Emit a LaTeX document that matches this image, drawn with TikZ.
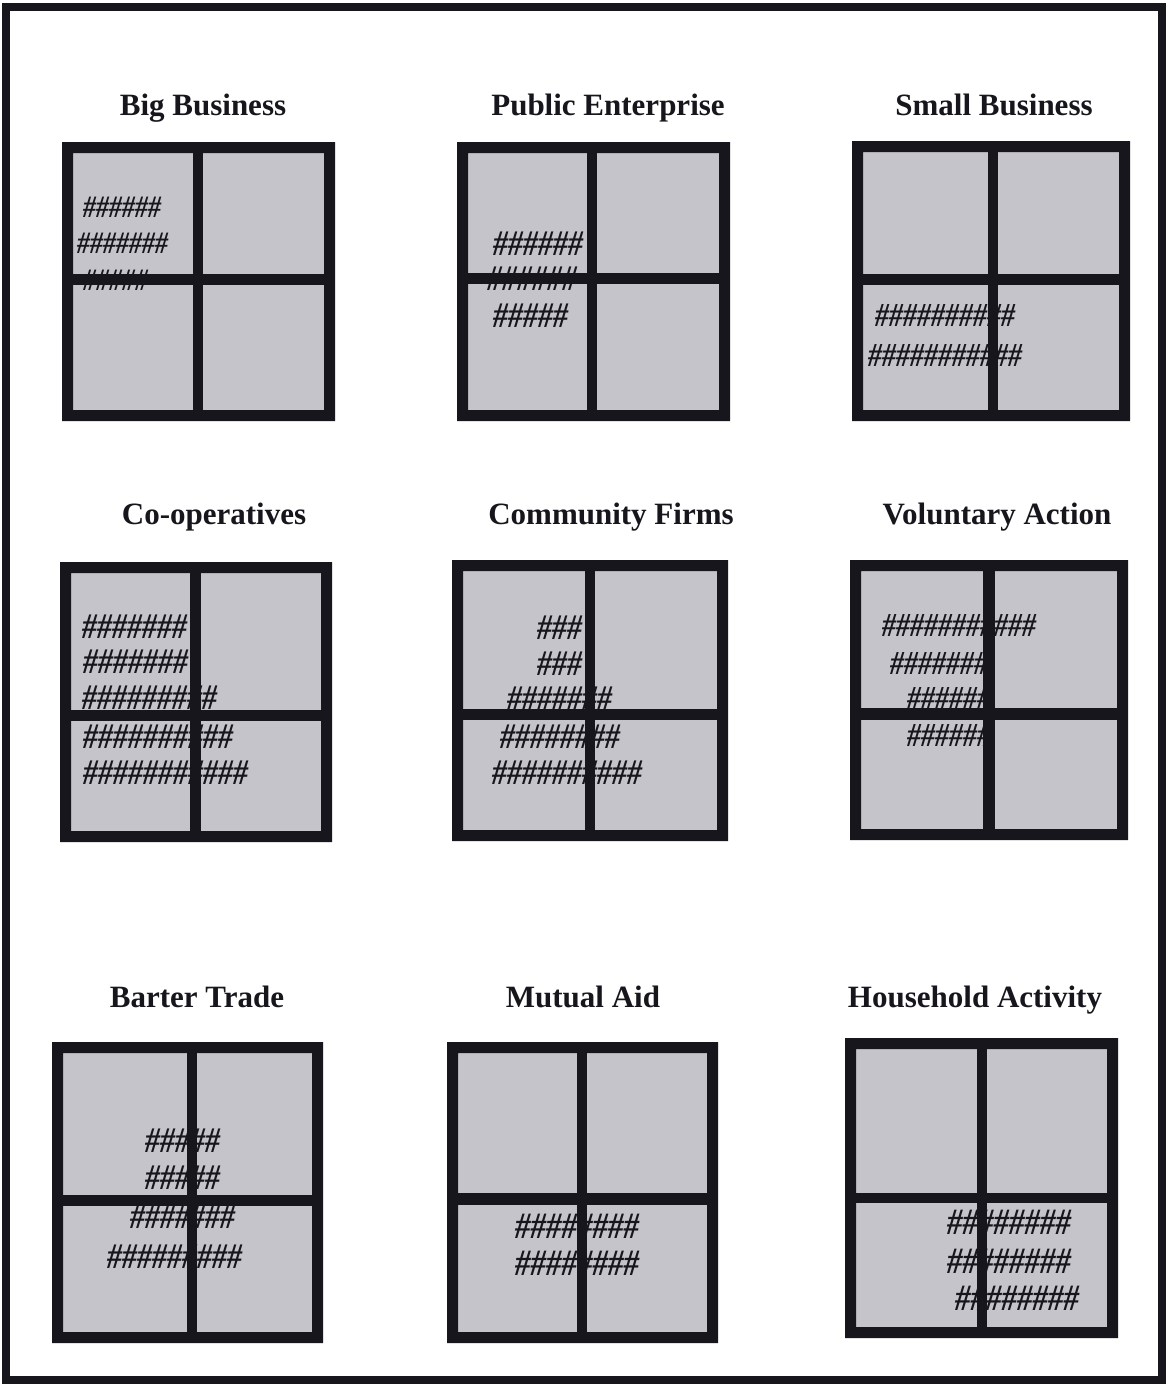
\documentclass[tikz,border=0pt]{standalone}
\usepackage{fontspec}
\setmainfont{Liberation Serif}
\definecolor{ink}{RGB}{22,22,28}
\definecolor{cellgray}{RGB}{196,196,202}
\tikzset{
  title/.style={font=\bfseries\fontsize{31}{31}\selectfont, text=ink, anchor=base, inner sep=0pt},
  hashrow/.style={font=\bfseries\itshape\fontsize{#1}{#1}\selectfont, text=ink, anchor=west, inner sep=0pt},
}
% taller hash glyphs, as in the scan
\newcommand{\hs}[1]{\scalebox{1}[1.2]{#1}}
% gray interior of a panel
\newcommand{\cellfill}[4]{\fill[cellgray] (#1,#2) rectangle (#3,#4);}
% black frame and cross bars of a panel
\newcommand{\cellframe}[8]{%
  \fill[ink,even odd rule] (#1,#2) rectangle (#3,#4) ({#1+11},{#2+11}) rectangle ({#3-11},{#4-11});
  \fill[ink] (#5,#2) rectangle (#6,#4);
  \fill[ink] (#1,#7) rectangle (#3,#8);}
\begin{document}
\begin{tikzpicture}[x=1pt,y=-1pt]
\fill[white] (0,0) rectangle (1171,1385);
\useasboundingbox (0,0) rectangle (1171,1385);
\draw[ink, line width=8pt] (6,7) rectangle (1162,1380);

% titles
\node[title] (t1) at (203,115) {Big Business};
\node[title] (t2) at (608,115) {Public Enterprise};
\node[title] (t3) at (994,115) {Small Business};
\node[title] (t4) at (214,524) {Co-operatives};
\node[title] (t5) at (611,524) {Community Firms};
\node[title] (t6) at (997,524) {Voluntary Action};
\node[title] (t7) at (197,1007) {Barter Trade};
\node[title] (t8) at (583,1007) {Mutual Aid};
\node[title] (t9) at (975,1007) {Household Activity};

% panel 1: Big Business
\cellfill{62}{142}{335}{421}
\node[hashrow=26] (p1a) at (83,207) {\hs{\#\#\#\#\#\#}};
\node[hashrow=26] (p1b) at (77,243) {\hs{\#\#\#\#\#\#\#}};
\node[hashrow=26] (p1c) at (83,280) {\hs{\#\#\#\#\#}};
\cellframe{62}{142}{335}{421}{193}{203}{274}{285}

% panel 2: Public Enterprise
\cellfill{457}{142}{730}{421}
\node[hashrow=30] (p2a) at (493,244) {\hs{\#\#\#\#\#\#}};
\node[hashrow=30] (p2b) at (487,279) {\hs{\#\#\#\#\#\#}};
\node[hashrow=30] (p2c) at (493,316) {\hs{\#\#\#\#\#}};
\cellframe{457}{142}{730}{421}{587}{597}{273}{284}

% panel 3: Small Business
\cellfill{852}{141}{1130}{421}
\node[hashrow=28] (p3a) at (875,315) {\hs{\#\#\#\#\#\#\#\#\#\#}};
\node[hashrow=28] (p3b) at (868,355) {\hs{\#\#\#\#\#\#\#\#\#\#\#}};
\cellframe{852}{141}{1130}{421}{988}{998}{274}{285}

% panel 4: Co-operatives
\cellfill{60}{562}{332}{842}
\node[hashrow=30] (p4a) at (82,627) {\hs{\#\#\#\#\#\#\#}};
\node[hashrow=30] (p4b) at (83,662) {\hs{\#\#\#\#\#\#\#}};
\node[hashrow=30] (p4c) at (82,698) {\hs{\#\#\#\#\#\#\#\#\#}};
\node[hashrow=30] (p4d) at (83,737) {\hs{\#\#\#\#\#\#\#\#\#\#}};
\node[hashrow=30] (p4e) at (83,773) {\hs{\#\#\#\#\#\#\#\#\#\#\#}};
\cellframe{60}{562}{332}{842}{190}{201}{710}{721}

% panel 5: Community Firms
\cellfill{452}{560}{728}{841}
\node[hashrow=30] (p5a) at (537,628) {\hs{\#\#\#}};
\node[hashrow=30] (p5b) at (537,664) {\hs{\#\#\#}};
\node[hashrow=30] (p5c) at (507,699) {\hs{\#\#\#\#\#\#\#}};
\node[hashrow=30] (p5d) at (500,737) {\hs{\#\#\#\#\#\#\#\#}};
\node[hashrow=30] (p5e) at (492,773) {\hs{\#\#\#\#\#\#\#\#\#\#}};
\cellframe{452}{560}{728}{841}{585}{595}{709}{720}

% panel 6: Voluntary Action
\cellfill{850}{560}{1128}{840}
\node[hashrow=28] (p6a) at (882,625) {\hs{\#\#\#\#\#\#\#\#\#\#\#}};
\node[hashrow=28] (p6b) at (890,663) {\hs{\#\#\#\#\#\#\#}};
\node[hashrow=28] (p6c) at (907,698) {\hs{\#\#\#\#\#\#}};
\node[hashrow=28] (p6d) at (907,735) {\hs{\#\#\#\#\#\#}};
\cellframe{850}{560}{1128}{840}{983}{995}{708}{720}

% panel 7: Barter Trade
\cellfill{52}{1042}{323}{1343}
\node[hashrow=30] (p7a) at (145,1141) {\hs{\#\#\#\#\#}};
\node[hashrow=30] (p7b) at (145,1178) {\hs{\#\#\#\#\#}};
\node[hashrow=30] (p7c) at (130,1217) {\hs{\#\#\#\#\#\#\#}};
\node[hashrow=30] (p7d) at (107,1257) {\hs{\#\#\#\#\#\#\#\#\#}};
\cellframe{52}{1042}{323}{1343}{187}{197}{1195}{1206}

% panel 8: Mutual Aid
\cellfill{447}{1042}{718}{1343}
\node[hashrow=31] (p8a) at (515,1226) {\hs{\#\#\#\#\#\#\#\#}};
\node[hashrow=31] (p8b) at (515,1263) {\hs{\#\#\#\#\#\#\#\#}};
\cellframe{447}{1042}{718}{1343}{577}{587}{1193}{1205}

% panel 9: Household Activity
\cellfill{845}{1038}{1118}{1338}
\node[hashrow=31] (p9a) at (947,1222) {\hs{\#\#\#\#\#\#\#\#}};
\node[hashrow=31] (p9b) at (947,1261) {\hs{\#\#\#\#\#\#\#\#}};
\node[hashrow=31] (p9c) at (955,1298) {\hs{\#\#\#\#\#\#\#\#}};
\cellframe{845}{1038}{1118}{1338}{977}{987}{1193}{1203}
\end{tikzpicture}
\end{document}
